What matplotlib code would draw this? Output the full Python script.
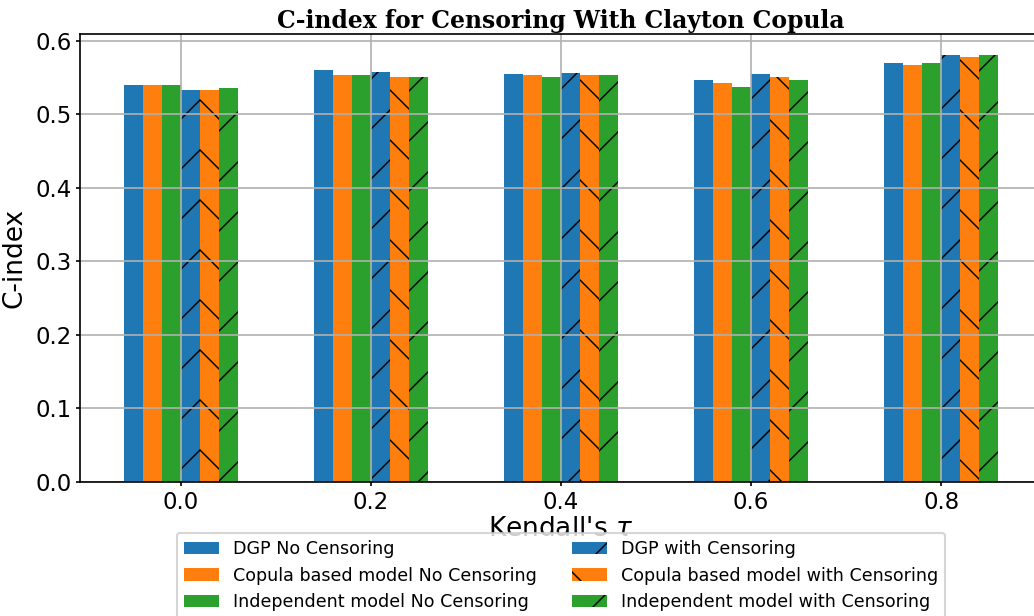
import matplotlib
matplotlib.use("Agg")
import matplotlib.pyplot as plt
import numpy as np

taus = [0.0, 0.2, 0.4, 0.6, 0.8]
tau_labels = ["0.0", "0.2", "0.4", "0.6", "0.8"]
dgp_nc = [0.540, 0.560, 0.555, 0.547, 0.569]
cop_nc = [0.539, 0.553, 0.553, 0.543, 0.567]
ind_nc = [0.539, 0.553, 0.551, 0.537, 0.569]
dgp_c = [0.533, 0.557, 0.556, 0.554, 0.580]
cop_c = [0.533, 0.550, 0.553, 0.551, 0.578]
ind_c = [0.535, 0.550, 0.553, 0.546, 0.580]

series = [
    ("DGP No Censoring", dgp_nc, "#1f77b4", None),
    ("Copula based model No Censoring", cop_nc, "#ff7f0e", None),
    ("Independent model No Censoring", ind_nc, "#2ca02c", None),
    ("DGP with Censoring", dgp_c, "#1f77b4", "/"),
    ("Copula based model with Censoring", cop_c, "#ff7f0e", "\\"),
    ("Independent model with Censoring", ind_c, "#2ca02c", "/"),
]

plt.rcParams["hatch.linewidth"] = 0.7

DPI = 150
fig = plt.figure(figsize=(1034 / DPI, 616 / DPI), dpi=DPI)
ax = fig.add_axes([80 / 1034, (616 - 482) / 616, 962 / 1034, 448 / 616])

w = 0.02
x = np.array(taus)
for i, (lab, vals, col, h) in enumerate(series):
    ax.bar(x + (i - 2.5) * w, vals, width=w, color=col, hatch=h, label=lab)

ax.set_xticks(taus)
ax.set_xticklabels(tau_labels)
ax.tick_params(labelsize=10.9, length=1.7)
ax.tick_params(axis="y", pad=2.1)
ax.tick_params(axis="x", pad=2.6)
ax.grid(True)
ax.set_xlabel("Kendall's $\\tau$", fontsize=12.7, labelpad=1)
ax.set_ylabel("C-index", fontsize=12.7, labelpad=4)
ax.set_title("C-index for Censoring With Clayton Copula", fontsize=11.3,
             fontweight="bold", family="DejaVu Serif", pad=3)
ax.legend(loc="upper center", bbox_to_anchor=(0.5, -0.094), ncol=2, fontsize=8.4)

fig.savefig("out.png", dpi=DPI)
